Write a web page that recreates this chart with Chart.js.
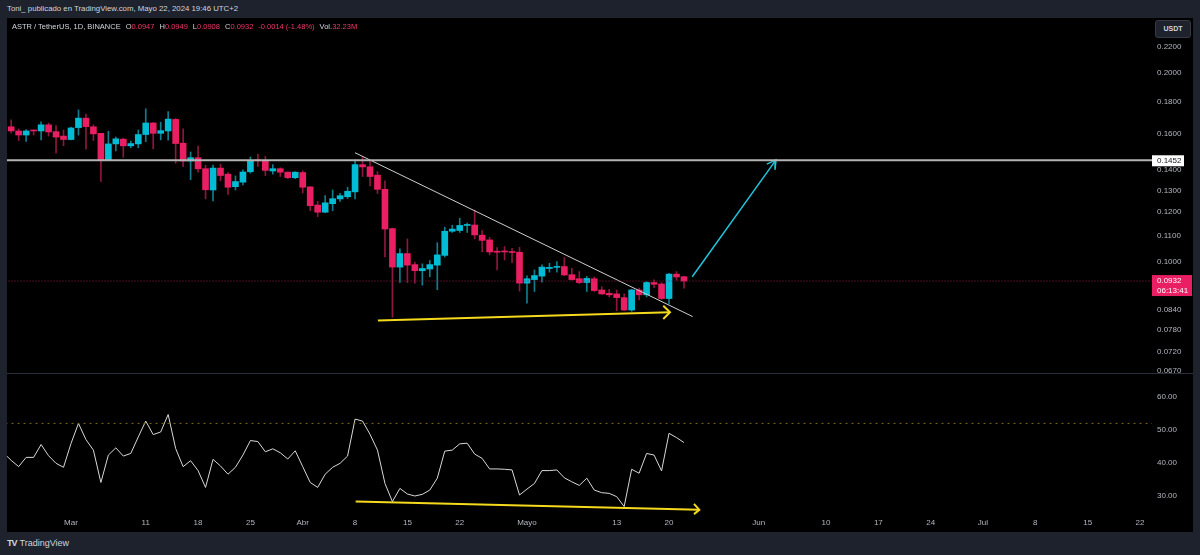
<!DOCTYPE html>
<html>
<head>
<meta charset="utf-8">
<title>ASTR / TetherUS</title>
<script src="https://cdn.jsdelivr.net/npm/chart.js@4.4.1/dist/chart.umd.min.js"></script>
<style>
  body { margin: 0; width: 1200px; height: 555px; background: #1e222d; position: relative; overflow: hidden;
         font-family: "Liberation Sans", Arial, sans-serif; color: #d1d4dc; }
  #author { position: absolute; left: 7px; top: 4px; font-size: 7.8px; }
  #panel { position: absolute; left: 7px; top: 18px; width: 1186px; height: 514px; background: #000; }
  #priceBox { position: absolute; left: 7px; top: 18px; width: 1186px; height: 355px; }
  #divider { position: absolute; left: 7px; top: 373px; width: 1186px; height: 1px; background: #2a2e39; }
  #rsiBox { position: absolute; left: 7px; top: 374px; width: 1186px; height: 158px; }
  #legend { position: absolute; left: 12px; top: 22px; font-size: 7.5px; white-space: nowrap; }
  #legend span { margin-left: 5px; }
  #legend b { font-weight: normal; color: #f23668; }
  #unit { position: absolute; left: 1155px; top: 20px; width: 34px; height: 16px; background: #1e222d;
          border: 1px solid #363a45; border-radius: 3px; font-size: 7px; font-weight: bold; line-height: 16px; text-align: center; }
  #footer { position: absolute; left: 7px; top: 538px; font-size: 9px; }
  #footer .logo { font-weight: 900; letter-spacing: -1px; margin-right: 3px; }
</style>
</head>
<body>
<div id="author">Toni_ publicado en TradingView.com, Mayo 22, 2024 19:46 UTC+2</div>
<div id="panel"></div>
<div id="priceBox"><canvas id="priceChart"></canvas></div>
<div id="divider"></div>
<div id="rsiBox"><canvas id="rsiChart"></canvas></div>
<div id="legend"></div>
<div id="unit">USDT</div>
<div id="footer"><span class="logo">TV</span>TradingView</div>
<script>
// 第一根K线的日期（相对3月1日的天数，2月21日）
const firstDay = -9;

// K线数据（2月21日 ~ 5月22日）
const opens = [
  .1678, .1642, .1617, .1593, .1623, .1617, .1654, .1613, .1587,
  .1567, .1637, .1695, .1642, .1603, .1452, .1542, .1569, .1531, .1542,
  .1596, .1665, .1603, .1617, .1687, .1546, .1448, .1466, .1408, .1302,
  .1411, .1380, .1318, .1340, .1392, .1454, .1449, .1396, .1408, .1390,
  .1362, .1388, .1317, .1232, .1200, .1238, .1260, .1270, .1293, .1429,
  .1418, .1375, .1305, .1130, .0981, .1031, .0990, .0968, .0974, .0988,
  .1024, .1119, .1122, .1143, .1145, .1103, .1084, .1040, .1040, .1038,
  .1036, .0925, .0937, .0949, .0976, .0980, .0983, .0954, .0940, .0927,
  .0940, .0902, .0891, .0889, .0877, .0838, .0902, .0886, .0927, .0922,
  .0874, .0956, .0947
];
const highs = [
  .1690, .1684, .1629, .1625, .1623, .1672, .1665, .1650, .1623,
  .1640, .1747, .1720, .1654, .1603, .1615, .1581, .1575, .1558, .1623,
  .1754, .1668, .1670, .1736, .1693, .1629, .1497, .1530, .1426, .1427,
  .1432, .1388, .1371, .1402, .1470, .1485, .1473, .1429, .1413, .1392,
  .1392, .1397, .1318, .1249, .1275, .1302, .1286, .1315, .1454, .1470,
  .1450, .1393, .1346, .1132, .1049, .1088, .0999, .0993, .1005, .1073,
  .1136, .1144, .1174, .1153, .1210, .1122, .1095, .1054, .1058, .1051,
  .1055, .0950, .0971, .0989, .0995, .1001, .1016, .0977, .0965, .0948,
  .0946, .0913, .0904, .0902, .0889, .0904, .0908, .0930, .0936, .0927,
  .0959, .0965, .0949
];
const lows = [
  .1635, .1605, .1561, .1556, .1593, .1565, .1587, .1490, .1532,
  .1565, .1593, .1512, .1561, .1343, .1450, .1503, .1468, .1520, .1520,
  .1555, .1514, .1565, .1563, .1436, .1418, .1352, .1390, .1260, .1251,
  .1347, .1281, .1302, .1327, .1385, .1419, .1373, .1380, .1368, .1357,
  .1357, .1288, .1207, .1181, .1198, .1207, .1249, .1262, .1260, .1368,
  .1322, .1285, .1018, .0816, .0927, .0927, .0925, .0918, .0947, .0903,
  .1018, .1114, .1114, .1114, .1088, .1038, .1026, .0971, .1007, .0997,
  .0898, .0859, .0897, .0928, .0963, .0963, .0951, .0935, .0923, .0897,
  .0897, .0887, .0879, .0836, .0836, .0834, .0870, .0879, .0910, .0872,
  .0857, .0935, .0908
];
const closes = [
  .1643, .1617, .1593, .1617, .1617, .1654, .1611, .1581, .1567,
  .1635, .1695, .1643, .1600, .1452, .1542, .1571, .1531, .1544, .1596,
  .1665, .1603, .1619, .1689, .1544, .1448, .1466, .1407, .1303, .1411,
  .1373, .1315, .1343, .1391, .1450, .1449, .1399, .1408, .1390, .1362,
  .1390, .1315, .1229, .1200, .1242, .1261, .1275, .1296, .1429, .1417,
  .1368, .1305, .1128, .0981, .1031, .0988, .0968, .0976, .0990, .1026,
  .1119, .1128, .1143, .1147, .1104, .1082, .1037, .1036, .1037, .1035,
  .0925, .0940, .0951, .0981, .0980, .0982, .0953, .0937, .0927, .0941,
  .0900, .0889, .0886, .0877, .0838, .0902, .0886, .0927, .0921, .0874,
  .0956, .0946, .0932
];

// RSI 数值
const rsiValues = [
  43.0, 40.8, 38.9, 41.7, 41.7, 45.6, 42.2, 39.9, 38.7,
  45.9, 52.0, 47.1, 43.9, 34.1, 42.4, 44.6, 42.1, 42.9, 47.9,
  52.7, 48.6, 49.4, 54.7, 44.4, 38.9, 40.7, 37.7, 32.6, 41.1,
  39.1, 36.6, 38.7, 42.4, 46.8, 46.5, 43.4, 44.3, 43.1, 41.2,
  43.7, 38.9, 34.1, 32.6, 36.6, 38.7, 39.9, 42.1, 53.3, 52.7,
  48.7, 43.9, 33.8, 28.3, 32.3, 30.6, 30.0, 30.5, 31.8, 35.4,
  43.6, 43.9, 45.8, 46.0, 42.7, 41.4, 38.2, 38.2, 38.1, 37.9,
  30.3, 32.1, 33.8, 37.7, 37.7, 37.9, 35.5, 34.3, 33.2, 35.4,
  31.8, 31.0, 30.8, 29.8, 26.8, 38.1, 36.9, 42.9, 42.4, 37.6,
  49.0, 47.7, 46.2
];

// 横轴刻度
const tickDays = [0, 10, 17, 24, 31, 38, 45, 52, 61, 73, 80, 92, 101, 108, 115, 122, 129, 136, 143];
const tickLabels = ['Mar', '11', '18', '25', 'Abr', '8', '15', '22', 'Mayo', '13', '20', 'Jun', '10', '17', '24', 'Jul', '8', '15', '22'];
const dayMin = -8.56;
const dayMax = 144.61;

// 纵轴刻度
const priceTicks = [0.22, 0.20, 0.18, 0.16, 0.14, 0.13, 0.12, 0.11, 0.10, 0.084, 0.078, 0.072, 0.067];
const priceMin = 0.0665;
const priceMax = 0.2448;
const rsiTicks = [30, 40, 50, 60];
const rsiMin = 25.15;
const rsiMax = 66.97;

// 画线（天数, 价格）
const levelPrice = 0.1452;
const trendDays = [37.99, 83.16];
const trendPrices = [0.1493, 0.0818];
const supportDays = [41.06, 80.13];
const supportPrices = [0.0806, 0.0831];
const supportHeadDays = [79.23, 80.13, 79.23];
const supportHeadPrices = [0.0851, 0.0831, 0.0811];
const targetDays = [83.11, 94.31];
const targetPrices = [0.0947, 0.1454];
const targetHeadDays = [93.09, 94.31, 94.18];
const targetHeadPrices = [0.1432, 0.1454, 0.1402];

// RSI 画线
const rsiLevel = 52;
const rsiLineDays = [38.08, 84.05];
const rsiLineValues = [28.3, 25.8];
const rsiHeadDays = [83.34, 84.05, 83.34];
const rsiHeadValues = [27.6, 25.8, 24.5];

const countdown = '06:13:41';
const volumeText = '32.23M';

const upColor = '#00bcd4';
const downColor = '#e91e63';
const upWick = '#127d8c';
const downWick = '#8e1640';
const tickColor = '#b2b5be';
const fontFamily = '"Liberation Sans", Arial, sans-serif';

// 组合成图表需要的数据
const days = opens.map((o, i) => firstDay + i);
const isUp = opens.map((o, i) => closes[i] >= o);

function points(xs, ys) {
    return xs.map((x, i) => ({ x: x, y: ys[i] }));
}

function lineSet(xs, ys, color, width, dash) {
    return {
        type: 'line',
        data: points(xs, ys),
        borderColor: color,
        borderWidth: width,
        borderDash: dash || [],
        pointRadius: 0,
        tension: 0,
        order: 0
    };
}

// 图例文字
const last = closes.length - 1;
const change = closes[last] - closes[last - 1];
const changePct = change / closes[last - 1] * 100;
document.getElementById('legend').innerHTML =
    'ASTR / TetherUS, 1D, BINANCE' +
    '<span>O<b>' + opens[last].toFixed(4) + '</b></span>' +
    '<span>H<b>' + highs[last].toFixed(4) + '</b></span>' +
    '<span>L<b>' + lows[last].toFixed(4) + '</b></span>' +
    '<span>C<b>' + closes[last].toFixed(4) + '</b></span>' +
    '<span><b>' + change.toFixed(4) + ' (' + changePct.toFixed(2) + '%)</b></span>' +
    '<span>Vol.<b>' + volumeText + '</b></span>';

// 价格轴上的标签
const axisLabels = {
    id: 'axisLabels',
    afterDraw(chart) {
        const y = chart.scales.y;
        const ctx = chart.ctx;
        const left = chart.chartArea.right;
        ctx.save();
        ctx.font = '8px ' + fontFamily;
        ctx.textBaseline = 'middle';
        ctx.textAlign = 'left';

        let py = y.getPixelForValue(levelPrice);
        ctx.fillStyle = '#ffffff';
        ctx.fillRect(left, py - 5, 32, 11);
        ctx.fillStyle = '#131722';
        ctx.fillText(levelPrice.toFixed(4), left + 5, py + 0.5);

        py = y.getPixelForValue(closes[last]);
        ctx.fillStyle = downColor;
        ctx.fillRect(left, py - 6, 40, 21);
        ctx.fillStyle = '#ffffff';
        ctx.fillText(closes[last].toFixed(4), left + 5, py);
        ctx.fillText(countdown, left + 5, py + 10);
        ctx.restore();
    }
};

Chart.defaults.font.family = fontFamily;
Chart.defaults.font.size = 8;
Chart.defaults.color = tickColor;

// 主图：K线
new Chart(document.getElementById('priceChart'), {
    type: 'bar',
    data: {
        datasets: [
            {
                data: days.map((d, i) => ({ x: d, y: [lows[i], highs[i]] })),
                backgroundColor: isUp.map(u => u ? upWick : downWick),
                barThickness: 1,
                grouped: false,
                clip: 0,
                order: 2
            },
            {
                data: days.map((d, i) => ({ x: d, y: [opens[i], closes[i]] })),
                backgroundColor: isUp.map(u => u ? upColor : downColor),
                barThickness: 6,
                minBarLength: 1,
                grouped: false,
                clip: 0,
                order: 1
            },
            lineSet([dayMin - 1, dayMax + 1], [levelPrice, levelPrice], '#b4b4b4', 2),
            lineSet([dayMin - 1, dayMax + 1], [closes[last], closes[last]], '#9c1a42', 1, [1, 2]),
            lineSet(trendDays, trendPrices, '#cfcfcf', 1),
            lineSet(supportDays, supportPrices, '#f5d91c', 2),
            lineSet(supportHeadDays, supportHeadPrices, '#f5d91c', 2),
            lineSet(targetDays, targetPrices, '#22c4dc', 1.5),
            lineSet(targetHeadDays, targetHeadPrices, '#22c4dc', 1.5)
        ]
    },
    options: {
        responsive: true,
        maintainAspectRatio: false,
        animation: false,
        layout: { padding: 0, autoPadding: false },
        plugins: { legend: { display: false }, tooltip: { enabled: false } },
        scales: {
            x: {
                type: 'linear',
                display: false,
                min: dayMin,
                max: dayMax,
                offset: false,
                bounds: 'data'
            },
            y: {
                type: 'logarithmic',
                position: 'right',
                min: priceMin,
                max: priceMax,
                bounds: 'data',
                grid: { display: false, drawTicks: false },
                border: { display: false },
                afterBuildTicks: scale => { scale.ticks = priceTicks.map(v => ({ value: v })); },
                afterFit: scale => { scale.width = 41; scale.paddingTop = 0; scale.paddingBottom = 0; },
                ticks: {
                    padding: 5,
                    color: tickColor,
                    callback: v => Number(v).toFixed(4)
                }
            }
        }
    },
    plugins: [axisLabels]
});

// 副图：RSI
new Chart(document.getElementById('rsiChart'), {
    type: 'line',
    data: {
        datasets: [
            lineSet([dayMin - 1, dayMax + 1], [rsiLevel, rsiLevel], '#7d6a18', 1, [2, 4]),
            lineSet(days, rsiValues, '#d8d8d8', 1),
            lineSet(rsiLineDays, rsiLineValues, '#f5d91c', 2),
            Object.assign(lineSet(rsiHeadDays, rsiHeadValues, '#f5d91c', 2), { clip: 4 })
        ]
    },
    options: {
        responsive: true,
        maintainAspectRatio: false,
        animation: false,
        layout: { padding: 0, autoPadding: false },
        plugins: { legend: { display: false }, tooltip: { enabled: false } },
        scales: {
            x: {
                type: 'linear',
                min: dayMin,
                max: dayMax,
                bounds: 'data',
                grid: { display: false, drawTicks: false },
                border: { display: false },
                afterBuildTicks: scale => { scale.ticks = tickDays.map(v => ({ value: v })); },
                afterFit: scale => { scale.height = 20; scale.paddingLeft = 0; scale.paddingRight = 0; },
                ticks: {
                    autoSkip: false,
                    maxRotation: 0,
                    padding: 6,
                    color: tickColor,
                    callback: v => tickLabels[tickDays.indexOf(v)]
                }
            },
            y: {
                position: 'right',
                min: rsiMin,
                max: rsiMax,
                bounds: 'data',
                grid: { display: false, drawTicks: false },
                border: { display: false },
                afterBuildTicks: scale => { scale.ticks = rsiTicks.map(v => ({ value: v })); },
                afterFit: scale => { scale.width = 41; scale.paddingTop = 0; scale.paddingBottom = 0; },
                ticks: {
                    padding: 5,
                    color: tickColor,
                    callback: v => Number(v).toFixed(2)
                }
            }
        }
    }
});
</script>
</body>
</html>
